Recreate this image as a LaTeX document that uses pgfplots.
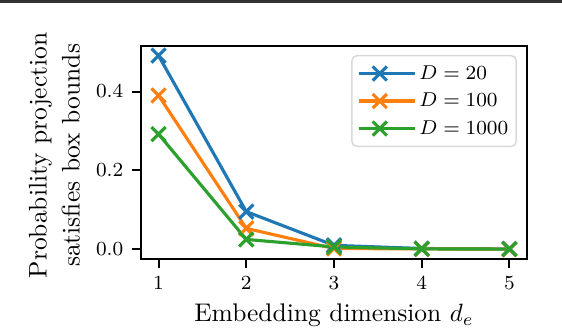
\documentclass[border=0pt]{standalone}
\usepackage{pgfplots}
\pgfplotsset{compat=1.18}
\definecolor{c1}{HTML}{1F77B4}
\definecolor{c2}{HTML}{FF7F0E}
\definecolor{c3}{HTML}{2CA02C}
\begin{document}
\begin{tikzpicture}
\begin{axis}[
  scale only axis, width=154.4pt, height=85.3pt,
  xmin=0.8, xmax=5.2, ymin=-0.0246, ymax=0.516,
  xtick={1,2,3,4,5}, ytick={0,0.2,0.4},
  yticklabel style={/pgf/number format/.cd, fixed, fixed zerofill, precision=1},
  tick align=outside, xtick pos=lower, ytick pos=left,
  major tick length=3.6pt,
  tick style={black, line width=0.8pt},
  axis line style={line width=0.9pt},
  ticklabel style={font=\fontsize{8.5}{10}\selectfont},
  label style={font=\fontsize{10.2}{13.2}\selectfont},
  xlabel={Embedding dimension $d_e$},
  ylabel={Probability projection\\satisfies box bounds},
  xlabel style={at={(axis description cs:0.5,-0.294)}, anchor=base},
  ylabel style={align=center, at={(axis description cs:-0.224,0.486)}, anchor=center},
  legend style={at={(rel axis cs:0.974,0.957)}, anchor=north east, draw=black!15, line width=0.6pt,
    rounded corners=2pt, font=\fontsize{8.5}{10}\selectfont, row sep=0.7pt, inner sep=2pt,
    nodes={inner sep=1.2pt, text height=6.2pt, text depth=1.7pt}},
  legend cell align=left,
  legend image code/.code={\draw[mark repeat=2,mark phase=2] plot coordinates {(0pt,0pt) (8.5pt,0pt) (17pt,0pt)};
    \path (0pt,0pt) -- (22.5pt,0pt);},
  every axis plot/.append style={line width=1.25pt, mark=x, mark size=4pt, mark options={line width=1.25pt}},
]
\addplot[c1] coordinates {(1,0.491) (2,0.0955) (3,0.010) (4,0.002) (5,0.001)};
\addlegendentry{$D = 20$}
\addplot[c2] coordinates {(1,0.390) (2,0.053) (3,0.002) (4,0.001) (5,0.0005)};
\addlegendentry{$D = 100$}
\addplot[c3] coordinates {(1,0.292) (2,0.025) (3,0.006) (4,0.001) (5,0.0005)};
\addlegendentry{$D = 1000$}
\coordinate (ll) at (rel axis cs:0,0);
\coordinate (ur) at (rel axis cs:1,1);
\end{axis}
\coordinate (BL) at ([shift={(-56.4pt,-27.6pt)}]ll);
\coordinate (TR) at ([shift={(14pt,18.3pt)}]ur);
\pgfresetboundingbox
\path[use as bounding box] (BL) rectangle (TR);
\fill[black!80] (BL |- TR) rectangle ([yshift=-1.3pt]TR);
\end{tikzpicture}
\end{document}
